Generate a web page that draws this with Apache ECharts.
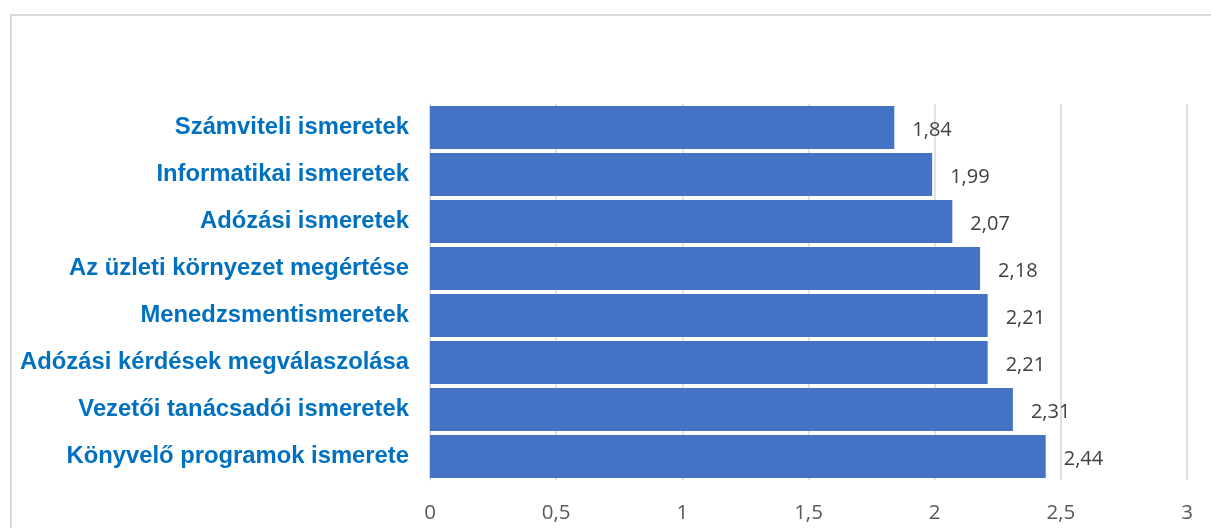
<!DOCTYPE html>
<html><head><meta charset="utf-8">
<script src="https://cdn.jsdelivr.net/npm/echarts@6/dist/echarts.min.js"></script>
<style>html,body{margin:0;padding:0;background:#fff}#c{width:1211px;height:528px;position:relative}
#frame{position:absolute;left:10px;top:14px;width:1210px;height:530px;border:2px solid #d9d9d9;box-sizing:border-box;pointer-events:none}</style>
</head><body><div id="c"></div><div id="frame"></div>
<script>
const categories = ["Számviteli ismeretek","Informatikai ismeretek","Adózási ismeretek","Az üzleti környezet megértése","Menedzsmentismeretek","Adózási kérdések megválaszolása","Vezetői tanácsadói ismeretek","Könyvelő programok ismerete"];
const values = [1.84,1.99,2.07,2.18,2.21,2.21,2.31,2.44];
const xTicks = [0,0.5,1,1.5,2,2.5,3];
const fmt = v => String(v).replace('.', ',');
const chart = echarts.init(document.getElementById('c'), null, {renderer:'canvas'});
chart.setOption({
  animation:false,
  grid:{left:430,right:24,top:104,bottom:48,containLabel:false},
  xAxis:{type:'value',min:xTicks[0],max:xTicks[xTicks.length-1],interval:0.5,
    axisLine:{show:false},axisTick:{show:false},
    splitLine:{lineStyle:{color:'#d9d9d9',width:1.5}},
    axisLabel:{formatter:fmt,color:'#595959',fontSize:20.5,fontFamily:'Open Sans, sans-serif',margin:23}},
  yAxis:{type:'category',data:categories,inverse:true,
    axisLine:{show:true,lineStyle:{color:'#d9d9d9',width:1.5}},axisTick:{show:false},
    axisLabel:{color:'#0070C0',fontWeight:'bold',fontSize:23.8,fontFamily:'Liberation Sans, Arial, sans-serif',margin:21,padding:[4,0,0,0]}},
  series:[{type:'bar',data:values,barCategoryGap:'9%',
    itemStyle:{color:'#4472C4'},
    label:{show:true,position:'right',distance:18,offset:[0,3],formatter:p=>fmt(p.value),color:'#404040',fontSize:20,fontFamily:'Open Sans, sans-serif'}}]
});
</script></body></html>
